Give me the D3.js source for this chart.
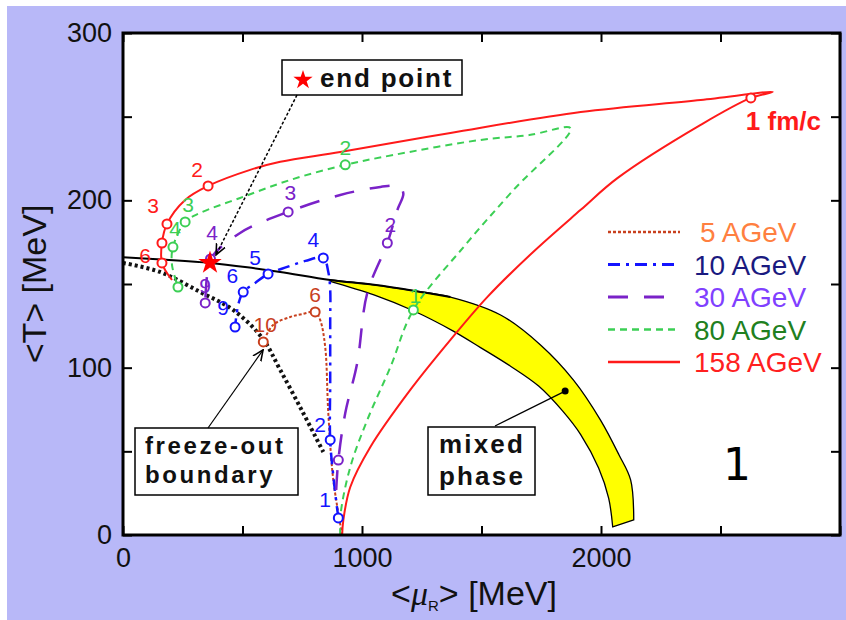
<!DOCTYPE html>
<html>
<head>
<meta charset="utf-8">
<script src="https://cdn.jsdelivr.net/npm/d3@7"></script>
<style>
  body { margin: 0; background: #fff; }
  svg { display: block; font-family: "Liberation Sans", Arial, sans-serif; }
</style>
</head>
<body>
<div id="chart"></div>
<script>
// Axis ticks
const muTicks = [0, 500, 1000, 1500, 2000, 2500, 3000];
const muLabels = [0, 1000, 2000];
const tTicks = [0, 50, 100, 150, 200, 250, 300];
const tLabels = [0, 100, 200, 300];
const beams = ["5 AGeV", "10 AGeV", "30 AGeV", "80 AGeV", "158 AGeV"];

// Phase boundary, mixed phase band, freeze-out curve  [muB, T] in MeV
const boundary = [[0, 166], [180, 164.5], [364, 162.6], [520, 160], [658, 157.2], [867, 152.4]];
const mixedUpper = [[867, 152.4], [1050, 149.5], [1215, 146], [1370, 142.2], [1580, 131.5], [1747, 113.6],
                    [1885, 92.6], [1998, 68.7], [2075, 48], [2124, 32.9], [2137, 9]];
const mixedLower = [[867, 151.6], [1050, 143.5], [1215, 134], [1380, 122], [1496, 112], [1620, 101],
                    [1739, 89], [1840, 74], [1915, 60], [1990, 40], [2032, 22], [2049, 4.8]];
const freezeOut = [[0, 162.6], [155, 157.2], [323, 145.2], [461, 134.5], [582, 117.8], [658, 98.6],
                   [754, 72.9], [838, 49.6]];
const endPoint = [364, 162.6];
const mixedDot = [1850, 86];

// Trajectories
const traj5 = [[917, 0], [880, 32.9], [859, 72.9], [846, 112.4], [825, 128.5], [804, 133.3], [750, 132],
               [700, 130.3], [628, 125.5], [587, 115.4]];
const marks5 = [[804, 133.3], [587, 115.4]];
const labels5 = [[804, 139.2, "6"], [595, 121.3, "10"]];

const traj10 = [[901, 10.2], [884, 30], [867, 56.8], [867, 92.6], [867, 128.5], [867, 146.4], [859, 157.2],
                [838, 165.6], [763, 163.8], [687, 160.2], [607, 156], [553, 150.6], [503, 145.2],
                [482, 137.5], [469, 124.3]];
const marks10 = [[901, 10.2], [867, 56.8], [838, 165.6], [607, 156], [503, 145.2], [469, 124.3]];
const labels10 = [[846, 16.7, "1"], [825, 61.6, "2"], [796, 172.1, "4"], [553, 161.4, "5"],
                  [457, 150.6, "6"], [419, 131.5, "9"]];

const traj30 = [[892, 26.9], [901, 44.8], [930, 72.9], [980, 102.8], [1022, 144.6], [1106, 174.5],
                [1150, 195], [1173, 204], [1155, 208.3], [1077, 208], [909, 203.2], [691, 193.1],
                [490, 180.5], [366, 165], [352, 155.4], [344, 138.7]];
const marks30 = [[901, 44.8], [1106, 174.5], [691, 193.1], [366, 165], [344, 138.7]];
const labels30 = [[1119, 181.1, "2"], [700, 200.2, "3"], [373, 176.3, "4"], [344, 144.6, "9"]];

const traj80 = [[909, 0], [911, 13], [951, 40.6], [1022, 68.7], [1119, 100.4], [1215, 134.5],
                [1425, 172.1], [1634, 206.2], [1873, 243], [1700, 239], [1496, 236.1], [1131, 227.1],
                [930, 221.2], [700, 212.2], [490, 201.4], [323, 192.5], [260, 187.1], [209, 172.1],
                [205, 161.4], [230, 148.2]];
const marks80 = [[1215, 134.5], [930, 221.2], [260, 187.1], [209, 172.1], [230, 148.2]];
const labels80 = [[1223, 138.7, "1"], [930, 227.1, "2"], [272, 193, "3"], [218, 178.7, "4"]];

const traj158 = [[917, 0], [922, 9], [951, 28.7], [1035, 52.6], [1202, 86.7], [1370, 116.6], [1525, 142.3],
                 [1715, 169], [1915, 194.3], [2070, 213.4], [2417, 245.1], [2627, 261.2], [2719, 264.8],
                 [2417, 260], [1915, 252.8], [1370, 240.3], [909, 228.9], [658, 223], [532, 218.2],
                 [356, 208.6], [260, 200.2], [184, 185.9], [163, 174.5], [163, 162.6], [205, 152.4]];
const marks158 = [[2627, 261.2], [356, 208.6], [184, 185.9], [163, 174.5], [163, 162.6]];
const labels158 = [[310, 214, "2"], [126, 192.4, "3"], [92, 162.6, "6"]];

// Styles per beam energy
const styles = [
  { line: "#c8401e", text: "#ff7f40", dash: "3,2", w: 2 },
  { line: "#1414ff", text: "#1a1a80", dash: "12,6,3,6", w: 2.5 },
  { line: "#7a22c8", text: "#8040ff", dash: "20,16", w: 2.5 },
  { line: "#3ccf55", text: "#208020", dash: "7,5", w: 2 },
  { line: "#ff1a1a", text: "#ff2020", dash: null, w: 2 }
];
const series = [
  { traj: traj5, marks: marks5, labels: labels5 },
  { traj: traj10, marks: marks10, labels: labels10 },
  { traj: traj30, marks: marks30, labels: labels30 },
  { traj: traj80, marks: marks80, labels: labels80 },
  { traj: traj158, marks: marks158, labels: labels158 }
];

const W = 846, H = 620;
const margin = { top: 33, right: 6, bottom: 85, left: 123 };
const width = W - margin.left - margin.right;
const height = H - margin.top - margin.bottom;

const svg = d3.select("#chart").append("svg")
    .attr("width", W)
    .attr("height", H);

// lavender background
svg.append("rect")
    .attr("x", 7).attr("y", 6)
    .attr("width", W - 7).attr("height", H - 6)
    .attr("fill", "#b8b8f8");

const defs = svg.append("defs");
defs.append("marker")
    .attr("id", "arrow")
    .attr("viewBox", "0 0 10 10")
    .attr("refX", 9).attr("refY", 5)
    .attr("markerWidth", 12).attr("markerHeight", 12)
    .attr("markerUnits", "userSpaceOnUse")
    .attr("orient", "auto")
    .append("path")
    .attr("d", "M0,1 L9,5 L0,9")
    .attr("fill", "none")
    .attr("stroke", "#000")
    .attr("stroke-width", 1.3);

const g = svg.append("g")
    .attr("transform", `translate(${margin.left},${margin.top})`);

// plot area
g.append("rect")
    .attr("width", width).attr("height", height)
    .attr("fill", "#fff");

const x = d3.scaleLinear().domain([0, 3000]).range([0, width]);
const y = d3.scaleLinear().domain([0, 300]).range([height, 0]);

const line = d3.line()
    .x(d => x(d[0]))
    .y(d => y(d[1]))
    .curve(d3.curveCatmullRom.alpha(0.5));

// Mixed phase band: upper edge, straight end, lower edge back, closed
const bandPath = line(mixedUpper) + "L" + line(mixedLower.slice().reverse()).slice(1) + "Z";
g.append("path")
    .attr("d", bandPath)
    .attr("fill", "#ffff00")
    .attr("stroke", "#000")
    .attr("stroke-width", 1.3)
    .attr("stroke-linejoin", "round");

// Phase boundary line
g.append("path")
    .attr("d", line(boundary.concat(mixedUpper.slice(1, 4))))
    .attr("fill", "none")
    .attr("stroke", "#000")
    .attr("stroke-width", 2);

// Freeze-out curve
g.append("path")
    .attr("d", line(freezeOut))
    .attr("fill", "none")
    .attr("stroke", "#111")
    .attr("stroke-width", 4)
    .attr("stroke-dasharray", "3,3");

// Trajectories
series.forEach((s, i) => {
    const st = styles[i];
    g.append("path")
        .attr("d", line(s.traj))
        .attr("fill", "none")
        .attr("stroke", st.line)
        .attr("stroke-width", st.w)
        .attr("stroke-dasharray", st.dash);
});

series.forEach((s, i) => {
    const st = styles[i];
    g.selectAll(null)
        .data(s.marks)
        .enter()
        .append("circle")
        .attr("cx", d => x(d[0]))
        .attr("cy", d => y(d[1]))
        .attr("r", 4.5)
        .attr("fill", "#fff")
        .attr("stroke", st.line)
        .attr("stroke-width", 2);

    g.selectAll(null)
        .data(s.labels)
        .enter()
        .append("text")
        .attr("x", d => x(d[0]))
        .attr("y", d => y(d[1]))
        .attr("text-anchor", "middle")
        .attr("font-size", 21)
        .attr("fill", st.line)
        .text(d => d[2]);
});

// 1 fm/c label
g.append("text")
    .attr("x", x(2606))
    .attr("y", y(242))
    .attr("font-size", 26)
    .attr("font-weight", "bold")
    .attr("fill", "#ff1a1a")
    .text("1 fm/c");

// end point star
g.append("path")
    .attr("transform", `translate(${x(endPoint[0])},${y(endPoint[1])})`)
    .attr("d", d3.symbol(d3.symbolStar).size(170)())
    .attr("fill", "#ff0000");

// Axes (ticks pointing inward)
const fmt = d => (muLabels.includes(d) ? d : "");
const fmtY = d => (tLabels.includes(d) ? d : "");
const axB = g.append("g").attr("transform", `translate(0,${height})`)
    .call(d3.axisBottom(x).tickValues(muTicks).tickSize(-9).tickPadding(13).tickFormat(fmt));
const axT = g.append("g")
    .call(d3.axisTop(x).tickValues(muTicks).tickSize(-9).tickFormat(""));
const axL = g.append("g")
    .call(d3.axisLeft(y).tickValues(tTicks).tickSize(-9).tickPadding(11).tickFormat(fmtY));
const axR = g.append("g").attr("transform", `translate(${width},0)`)
    .call(d3.axisRight(y).tickValues(tTicks).tickSize(-9).tickFormat(""));
[axB, axT, axL, axR].forEach(a => {
    a.select(".domain").remove();
    a.selectAll("line").attr("stroke", "#000").attr("stroke-width", 2);
    a.selectAll("text").attr("font-size", 27).attr("fill", "#111")
        .attr("font-family", "'Liberation Sans', Arial, sans-serif");
});

// frame
g.append("rect")
    .attr("width", width).attr("height", height)
    .attr("fill", "none")
    .attr("stroke", "#000")
    .attr("stroke-width", 3);

// Axis titles
svg.append("text")
    .attr("transform", "translate(46,284) rotate(-90)")
    .attr("text-anchor", "middle")
    .attr("font-size", 34)
    .attr("fill", "#111")
    .text("<T> [MeV]");

const xt = svg.append("text")
    .attr("x", 474)
    .attr("y", 605)
    .attr("text-anchor", "middle")
    .attr("font-size", 34)
    .attr("fill", "#111");
xt.append("tspan").text("<");
xt.append("tspan").attr("font-style", "italic").attr("font-family", "'Liberation Serif', serif").text("\u03bc");
xt.append("tspan").attr("font-size", 15).attr("dy", 6).text("R");
xt.append("tspan").attr("dy", -6).text("> [MeV]");

// Legend
const legend = svg.append("g");
beams.forEach((b, i) => {
    const st = styles[i];
    const ly = 232 + i * 32.5;
    legend.append("line")
        .attr("x1", 608).attr("x2", 680)
        .attr("y1", ly).attr("y2", ly)
        .attr("stroke", st.line)
        .attr("stroke-width", st.w + 0.5)
        .attr("stroke-dasharray", st.dash);
    legend.append("text")
        .attr("x", i === 0 ? 700 : 694)
        .attr("y", ly + 10)
        .attr("font-size", 28)
        .attr("fill", st.text)
        .text(b);
});

// Annotation: end point
svg.append("rect")
    .attr("x", 282).attr("y", 60).attr("width", 180).attr("height", 35)
    .attr("fill", "#fff").attr("stroke", "#000").attr("stroke-width", 1.5);
svg.append("path")
    .attr("transform", "translate(303,80)")
    .attr("d", d3.symbol(d3.symbolStar).size(115)())
    .attr("fill", "#ff0000");
svg.append("text")
    .attr("x", 320).attr("y", 87)
    .attr("font-size", 26).attr("font-weight", "bold")
    .attr("letter-spacing", 1.8)
    .attr("fill", "#111")
    .text("end point");
svg.append("line")
    .attr("x1", 297).attr("y1", 95)
    .attr("x2", margin.left + x(endPoint[0]) + 6).attr("y2", margin.top + y(endPoint[1]) - 8)
    .attr("stroke", "#000").attr("stroke-width", 1.5)
    .attr("stroke-dasharray", "3,2")
    .attr("marker-end", "url(#arrow)");

// Annotation: freeze-out boundary
svg.append("rect")
    .attr("x", 135).attr("y", 428).attr("width", 163).attr("height", 67)
    .attr("fill", "#fff").attr("stroke", "#000").attr("stroke-width", 1.5);
svg.append("text")
    .attr("x", 145).attr("y", 454)
    .attr("font-size", 24).attr("font-weight", "bold").attr("letter-spacing", 2.6)
    .attr("fill", "#111").text("freeze-out");
svg.append("text")
    .attr("x", 145).attr("y", 483)
    .attr("font-size", 24).attr("font-weight", "bold").attr("letter-spacing", 2.6)
    .attr("fill", "#111").text("boundary");
svg.append("line")
    .attr("x1", 208).attr("y1", 428)
    .attr("x2", margin.left + x(582) + 1).attr("y2", margin.top + y(117.8) + 12)
    .attr("stroke", "#000").attr("stroke-width", 1.2)
    .attr("marker-end", "url(#arrow)");

// Annotation: mixed phase
svg.append("rect")
    .attr("x", 428).attr("y", 427).attr("width", 107).attr("height", 68)
    .attr("fill", "#fff").attr("stroke", "#000").attr("stroke-width", 1.5);
svg.append("text")
    .attr("x", 482).attr("y", 453).attr("text-anchor", "middle")
    .attr("font-size", 26).attr("font-weight", "bold").attr("letter-spacing", 2.2)
    .attr("fill", "#111").text("mixed");
svg.append("text")
    .attr("x", 482).attr("y", 485).attr("text-anchor", "middle")
    .attr("font-size", 26).attr("font-weight", "bold").attr("letter-spacing", 2.2)
    .attr("fill", "#111").text("phase");
svg.append("line")
    .attr("x1", 495).attr("y1", 426)
    .attr("x2", margin.left + x(mixedDot[0])).attr("y2", margin.top + y(mixedDot[1]))
    .attr("stroke", "#000").attr("stroke-width", 1.2);
svg.append("circle")
    .attr("cx", margin.left + x(mixedDot[0])).attr("cy", margin.top + y(mixedDot[1]))
    .attr("r", 3.5).attr("fill", "#000");

// Panel number
svg.append("text")
    .attr("x", 737).attr("y", 480).attr("text-anchor", "middle")
    .attr("font-family", "'DejaVu Sans', sans-serif")
    .attr("font-size", 44).attr("fill", "#000")
    .text("1");
</script>
</body>
</html>
